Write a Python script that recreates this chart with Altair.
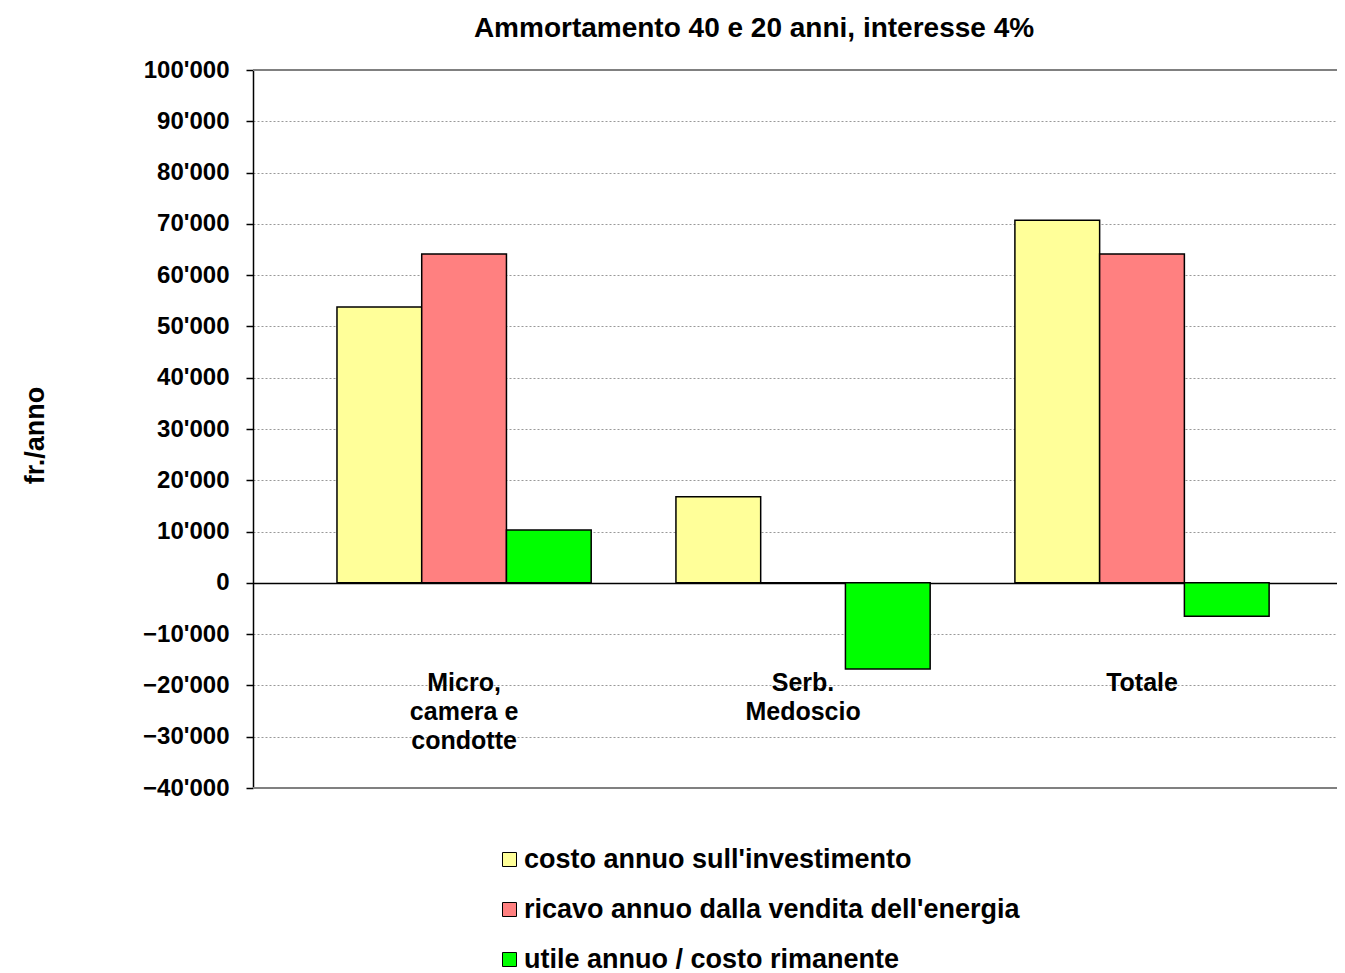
import altair as alt
import pandas as pd

categories = ["Micro,|camera e|condotte", "Serb.|Medoscio", "Totale"]
series = ["costo annuo sull'investimento",
          "ricavo annuo dalla vendita dell'energia",
          "utile annuo / costo rimanente"]
costo = [53800, 16800, 70700]
ricavo = [64100, 0, 64100]
utile = [10300, -16800, -6500]
colors = ["#FFFF99", "#FF8080", "#00FF00"]
frame_values = [100000, -40000]

rows = []
for i, c in enumerate(categories):
    for s, vals in zip(series, [costo, ricavo, utile]):
        rows.append({"cat": c, "serie": s, "val": vals[i]})
df = pd.DataFrame(rows)
frame = pd.DataFrame({"v": frame_values})

FONT = "Liberation Sans"

bars = alt.Chart(df).mark_bar(stroke="black", strokeWidth=1.5).encode(
    x=alt.X("cat:N", sort=categories,
            scale=alt.Scale(paddingInner=0.25, paddingOuter=0.224, align=0.553),
            axis=alt.Axis(title=None, orient="bottom", offset=-205, domainColor="black",
                          domainWidth=1.5, ticks=False, labelAngle=0,
                          labelPadding=87, labelLineHeight=29,
                          labelExpr="split(datum.label, '|')",
                          labelFont=FONT, labelFontSize=25, labelFontWeight="bold",
                          labelColor="black")),
    xOffset=alt.XOffset("serie:N", sort=series, scale=alt.Scale(paddingInner=0, paddingOuter=0)),
    y=alt.Y("val:Q", scale=alt.Scale(domain=[-40000, 100000], nice=False),
            axis=alt.Axis(values=list(range(-40000, 100001, 10000)),
                          labelExpr="replace(format(datum.value, ',d'), ',', \"'\")",
                          title="fr./anno", titleFont=FONT, titleFontSize=27,
                          titleFontWeight="bold", titleColor="black",
                          titleAngle=-90, titleX=-218, titleY=365,
                          titleAlign="center", titleBaseline="middle",
                          labelFont=FONT, labelFontSize=24, labelFontWeight="bold",
                          labelColor="black", labelPadding=17,
                          domainColor="black", domainWidth=1.5,
                          tickColor="black", tickSize=7, tickWidth=1.5,
                          grid=True, gridColor="#999999", gridDash=[2, 2], gridWidth=1)),
    color=alt.Color("serie:N", sort=series,
                    scale=alt.Scale(domain=series, range=colors),
                    legend=alt.Legend(title=None, orient="none", legendX=243, legendY=776,
                                      direction="vertical", symbolType="square",
                                      symbolSize=196, symbolStrokeColor="black",
                                      symbolStrokeWidth=1, labelFont=FONT,
                                      labelFontSize=27, labelFontWeight="bold",
                                      labelColor="black", labelOffset=1,
                                      rowPadding=22, labelLimit=700)),
)

frame_rules = alt.Chart(frame).mark_rule(color="#808080", strokeWidth=2).encode(
    y=alt.Y("v:Q")
)

chart = alt.layer(bars, frame_rules).properties(
    width=1084, height=718,
    padding={"left": 245, "top": 62, "right": 0, "bottom": 185},
    autosize=alt.AutoSizeParams(type="none"),
    title=alt.TitleParams("Ammortamento 40 e 20 anni, interesse 4%", font=FONT,
                          fontSize=28, fontWeight="bold", color="black",
                          anchor="middle", dx=-41, offset=15),
).configure_view(stroke=None)

chart.save("out.html", embed_options={"renderer": "svg", "actions": False})
